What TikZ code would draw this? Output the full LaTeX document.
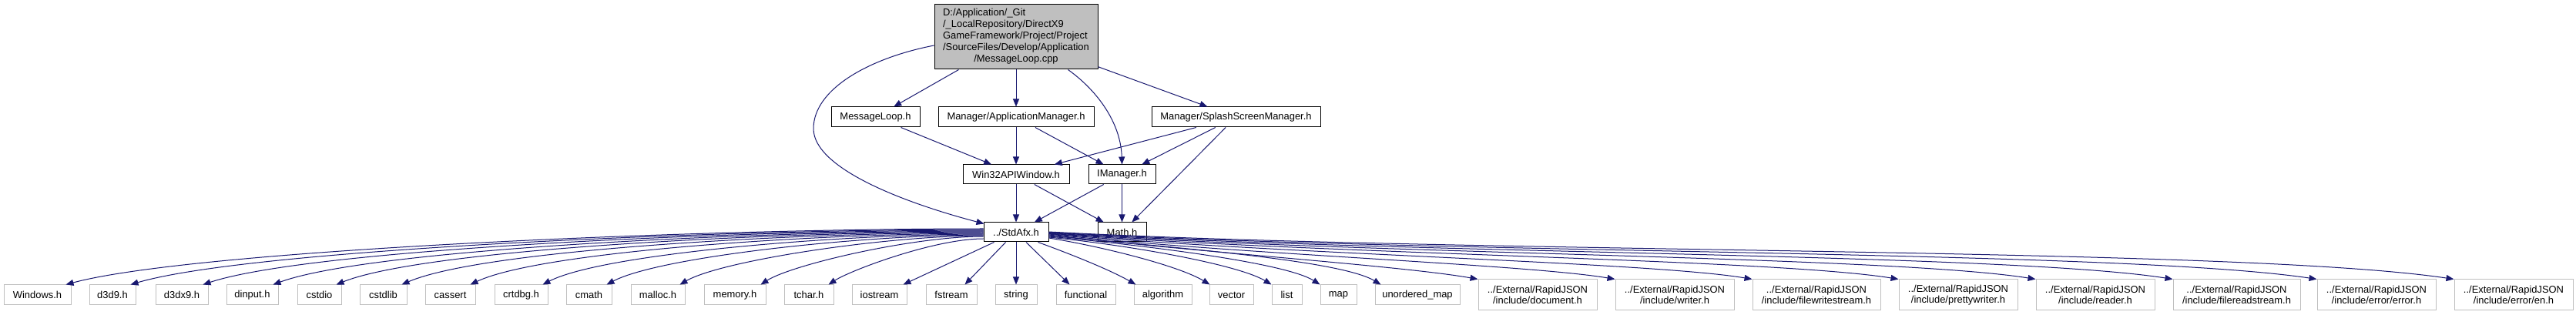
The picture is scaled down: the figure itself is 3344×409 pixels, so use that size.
\documentclass[tikz,border=0pt]{standalone}
\usepackage{fontspec}
\setmainfont{Liberation Sans}
\usetikzlibrary{arrows.meta,calc}
\definecolor{edgec}{HTML}{191970}
\definecolor{greyS}{HTML}{BFBFBF}
\newcommand\bx[7]{\node[#6, minimum width={(#3-#2)*0.75pt}, minimum height={(#5-#4)*0.75pt}] (#1) at ({(#2+#3)/2},{(#4+#5)/2}) {#7};}
\tikzset{
  docbox/.style={draw=black, line width=0.75pt, fill=white, inner sep=0pt, font=\fontsize{9.7}{10.75}\selectfont},
  rootbox/.style={draw=black, line width=0.75pt, fill=greyS, inner sep=0pt, font=\fontsize{9.7}{11.25}\selectfont},
  extbox/.style={draw=greyS, line width=0.75pt, fill=white, inner sep=0pt, align=center, font=\fontsize{9.7}{10.75}\selectfont},
  dep/.style={draw=edgec, line width=0.75pt, -{Triangle[length=7.5pt,width=6pt]}, fill=none},
}
\begin{document}
\begin{tikzpicture}[x=0.75pt, y=-0.75pt]
\useasboundingbox (0,0) rectangle (3344,409);
% upper nodes
\bx{root}{1213}{1425}{6}{90}{rootbox}{\begin{tabular}{@{}l@{}}D:/Application/\_Git\\/\_LocalRepository/DirectX9\\GameFramework/Project/Project\\/SourceFiles/Develop/Application\\\multicolumn{1}{@{}c@{}}{/MessageLoop.cpp}\end{tabular}}
\bx{ml}{1079}{1194}{139}{165}{docbox}{MessageLoop.h}
\bx{am}{1218}{1420}{139}{165}{docbox}{Manager/ApplicationManager.h}
\bx{ssm}{1495}{1714}{139}{165}{docbox}{Manager/SplashScreenManager.h}
\bx{w32}{1250}{1388}{214}{239}{docbox}{Win32APIWindow.h}
\bx{im}{1413}{1500}{214}{239}{docbox}{IManager.h}
\bx{std}{1277}{1361}{289}{314}{docbox}{../StdAfx.h}
\bx{math}{1425}{1488}{289}{314}{docbox}{Math.h}
% bottom row
\bx{win}{5}{92}{370}{396}{extbox}{Windows.h}
\bx{d3d9}{116}{176}{370}{396}{extbox}{d3d9.h}
\bx{d3dx9}{202}{270}{370}{396}{extbox}{d3dx9.h}
\bx{dinput}{294}{361}{370}{396}{extbox}{dinput.h}
\bx{cstdio}{386}{443}{370}{396}{extbox}{cstdio}
\bx{cstdlib}{467}{528}{370}{396}{extbox}{cstdlib}
\bx{cassert}{552}{617}{370}{396}{extbox}{cassert}
\bx{crtdbg}{642}{711}{370}{396}{extbox}{crtdbg.h}
\bx{cmath}{735}{794}{370}{396}{extbox}{cmath}
\bx{malloc}{819}{889}{370}{396}{extbox}{malloc.h}
\bx{memory}{914}{994}{370}{396}{extbox}{memory.h}
\bx{tchar}{1018}{1082}{370}{396}{extbox}{tchar.h}
\bx{iostream}{1106}{1177}{370}{396}{extbox}{iostream}
\bx{fstream}{1202}{1268}{370}{396}{extbox}{fstream}
\bx{string}{1292}{1346}{370}{396}{extbox}{string}
\bx{functional}{1371}{1448}{370}{396}{extbox}{functional}
\bx{algorithm}{1472}{1547}{370}{396}{extbox}{algorithm}
\bx{vector}{1570}{1627}{370}{396}{extbox}{vector}
\bx{list}{1651}{1690}{370}{396}{extbox}{list}
\bx{map}{1714}{1761}{370}{396}{extbox}{map}
\bx{umap}{1785}{1895}{370}{396}{extbox}{unordered\_map}
\bx{doc}{1919}{2073}{363}{403}{extbox}{../External/RapidJSON\\/include/document.h}
\bx{writer}{2097}{2251}{363}{403}{extbox}{../External/RapidJSON\\/include/writer.h}
\bx{fws}{2275}{2441}{363}{403}{extbox}{../External/RapidJSON\\/include/filewritestream.h}
\bx{pw}{2465}{2619}{363}{403}{extbox}{../External/RapidJSON\\/include/prettywriter.h}
\bx{reader}{2643}{2797}{363}{403}{extbox}{../External/RapidJSON\\/include/reader.h}
\bx{frs}{2821}{2986}{363}{403}{extbox}{../External/RapidJSON\\/include/filereadstream.h}
\bx{err}{3008}{3162}{363}{403}{extbox}{../External/RapidJSON\\/include/error/error.h}
\bx{en}{3186}{3340}{363}{403}{extbox}{../External/RapidJSON\\/include/error/en.h}
% upper edges
\draw[dep] (root) -- (ml);
\draw[dep] (root) -- (am);
\draw[dep] (root) -- (ssm);
\draw[dep] ($(root.south east)+(-39,0)$) .. controls (1425,118) and (1455,160) .. (im.north);
\draw[dep] ($(root.west)+(0,11)$) .. controls (1130,75) and (1056,115) .. (1056,167) .. controls (1056,220) and (1180,265) .. ($(std.north west)+(1,2)$);
\draw[dep] (ml) -- (w32);
\draw[dep] (am) -- (w32);
\draw[dep] (am) -- (im);
\draw[dep] (ssm) -- (w32);
\draw[dep] (ssm) -- (im);
\draw[dep] (ssm) -- (math);
\draw[dep] (w32) -- (std);
\draw[dep] (w32) -- (math);
\draw[dep] (im) -- (std);
\draw[dep] (im) -- (math);
% StdAfx to the left
\draw[dep] ($(std.west)+(0,-4.5)$) .. controls (896,297) and (252,325) .. ($(win.north east)+(-7,0)$);
\draw[dep] ($(std.west)+(0,-3.5)$) .. controls (923,298) and (325,324) .. ($(d3d9.north east)+(-7,0)$);
\draw[dep] ($(std.west)+(0,-2.5)$) .. controls (953,299) and (405,323) .. ($(d3dx9.north east)+(-7,0)$);
\draw[dep] ($(std.west)+(0,-1.5)$) .. controls (981,300) and (482,323) .. ($(dinput.north east)+(-7,0)$);
\draw[dep] ($(std.west)+(0,-0.5)$) .. controls (1008,301) and (553,323) .. ($(cstdio.north east)+(-7,0)$);
\draw[dep] ($(std.west)+(0,0.5)$) .. controls (1035,302) and (628,324) .. ($(cstdlib.north east)+(-7,0)$);
\draw[dep] ($(std.west)+(0,1.5)$) .. controls (1064,303) and (703,326) .. ($(cassert.north east)+(-7,0)$);
\draw[dep] ($(std.west)+(0,2.5)$) .. controls (1093,304) and (783,329) .. ($(crtdbg.north east)+(-7,0)$);
\draw[dep] ($(std.west)+(0,3.5)$) .. controls (1121,305) and (857,333) .. ($(cmath.north east)+(-7,0)$);
\draw[dep] ($(std.west)+(0,4.5)$) .. controls (1151,306) and (937,338) .. ($(malloc.north east)+(-7,0)$);
\draw[dep] ($(std.west)+(0,5.5)$) .. controls (1184,307) and (1027,344) .. ($(memory.north east)+(-7,0)$);
\draw[dep] ($(std.west)+(0,8.5)$) .. controls (1213,310) and (1104,351) .. ($(tchar.north east)+(-7,0)$);
\draw[dep] ($(std.south west)+(14,0)$) -- ($(iostream.north east)+(-5,0)$);
\draw[dep] ($(std.south west)+(29,0)$) -- ($(fstream.north east)+(-16,0)$);
\draw[dep] (std.south) -- (string.north);
\draw[dep] ($(std.south)+(13,0)$) -- ($(functional.north west)+(18,0)$);
\draw[dep] ($(std.south east)+(-14,0)$) .. controls (1390,330) and (1440,350) .. ($(algorithm.north west)+(3,0)$);
% StdAfx to the right
\draw[dep] ($(std.east)+(0,7.5)$) .. controls (1430,320) and (1530,345) .. ($(vector.north west)+(1,0)$);
\draw[dep] ($(std.east)+(0,6.5)$) .. controls (1480,320) and (1610,345) .. (list.north west);
\draw[dep] ($(std.east)+(0,5.5)$) .. controls (1500,320) and (1670,342) .. (map.north west);
\draw[dep] ($(std.east)+(0,4.5)$) .. controls (1530,322) and (1740,338) .. ($(umap.north west)+(8,0)$);
\draw[dep] ($(std.east)+(0,3.5)$) .. controls (1560,328) and (1819,345) .. (doc.north west);
\draw[dep] ($(std.east)+(0,2.5)$) .. controls (1600,330) and (1980,343) .. (writer.north west);
\draw[dep] ($(std.east)+(0,2)$) .. controls (1650,330) and (2140,340) .. (fws.north west);
\draw[dep] ($(std.east)+(0,1.5)$) .. controls (1700,330) and (2300,336) .. (pw.north west);
\draw[dep] ($(std.east)+(0,1)$) .. controls (1750,330) and (2450,332) .. (reader.north west);
\draw[dep] ($(std.east)+(0,0.5)$) .. controls (1800,330) and (2600,328) .. (frs.north west);
\draw[dep] ($(std.east)+(0,0)$) .. controls (1850,330) and (2750,324) .. (err.north west);
\draw[dep] ($(std.east)+(0,-0.5)$) .. controls (1900,330) and (2900,320) .. (en.north west);
\end{tikzpicture}
\end{document}
